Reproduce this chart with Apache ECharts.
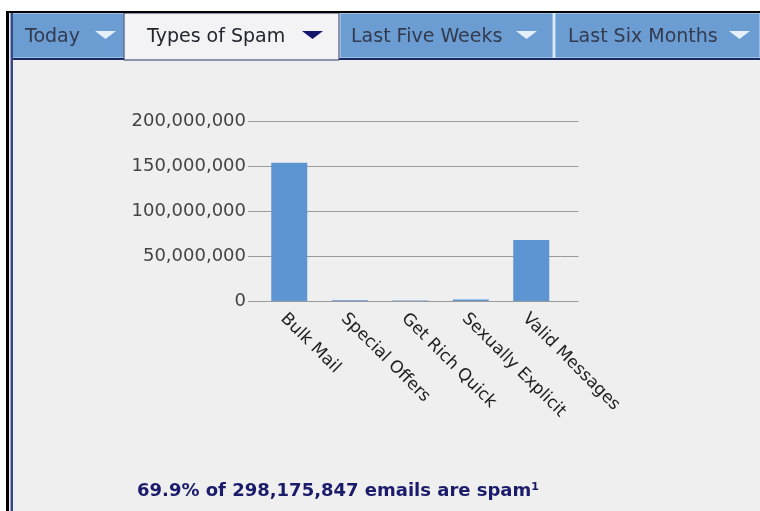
<!DOCTYPE html>
<html>
<head>
<meta charset="utf-8">
<script src="https://cdn.jsdelivr.net/npm/echarts@6/dist/echarts.min.js"></script>
<style>
  html, body { margin: 0; padding: 0; background: #ffffff; }
  #chart { width: 760px; height: 511px; }
</style>
</head>
<body>
<div id="chart"></div>
<script>
// Spam breakdown by category (message counts)
const categories = ['Bulk Mail', 'Special Offers', 'Get Rich Quick', 'Sexually Explicit', 'Valid Messages'];
const messageCounts = [153700000, 700000, 500000, 1800000, 67800000];
const yTicks = [0, 50000000, 100000000, 150000000, 200000000];
const tabNames = ['Today', 'Types of Spam', 'Last Five Weeks', 'Last Six Months'];
const activeTab = 1;
const summaryText = '69.9% of 298,175,847 emails are spam\u00b9';

const panelBg = '#efefef';
const tabBlue = '#6b9dd3';
const navy = '#1c2a63';

const chart = echarts.init(document.getElementById('chart'), null, { renderer: 'canvas' });

// Tab strip geometry
const tabBoxes = [
  { x: 10, w: 114, textX: 25, triX: 95 },
  { x: 124, w: 215, textX: 147, triX: 302 },
  { x: 340, w: 213, textX: 351, triX: 516 },
  { x: 555, w: 205, textX: 568, triX: 729 }
];

const graphics = [
  // outer frame / panel background
  { type: 'rect', shape: { x: 0, y: 0, width: 760, height: 511 }, style: { fill: '#ffffff' }, z: -10 },
  { type: 'rect', shape: { x: 8, y: 11, width: 752, height: 500 }, style: { fill: panelBg }, z: -9 },
  { type: 'rect', shape: { x: 6, y: 11, width: 754, height: 2 }, style: { fill: '#000000' }, z: 5 },
  { type: 'rect', shape: { x: 6, y: 11, width: 3, height: 500 }, style: { fill: '#000000' }, z: 5 },
  { type: 'rect', shape: { x: 10, y: 13, width: 1, height: 498 }, style: { fill: '#9aa6d0' }, z: 5 },
  { type: 'rect', shape: { x: 11, y: 13, width: 2, height: 498 }, style: { fill: '#3a4880' }, z: 5 },
  { type: 'rect', shape: { x: 13, y: 58, width: 747, height: 2 }, style: { fill: navy }, z: 3 }
];

tabBoxes.forEach((b, i) => {
  const active = i === activeTab;
  graphics.push({
    type: 'rect',
    shape: { x: b.x, y: 13, width: b.w, height: active ? 47 : 45 },
    style: { fill: active ? '#f3f3f5' : tabBlue, stroke: active ? '#2a3468' : '#cfe2f5', lineWidth: 1 },
    z: active ? 4 : 2
  });
  graphics.push({
    type: 'text',
    x: b.textX, y: 37,
    style: { text: tabNames[i], font: '19px "DejaVu Sans"', fill: active ? '#22252e' : '#333a4e', verticalAlign: 'middle' },
    z: 6
  });
  graphics.push({
    type: 'polygon',
    shape: { points: [[b.triX, 31], [b.triX + 21, 31], [b.triX + 10.5, 39]] },
    style: { fill: active ? '#14166e' : '#e6f0fb' },
    z: 6
  });
});

graphics.push({
  type: 'text',
  left: 137, top: 482,
  style: { text: summaryText, font: 'bold 18px "DejaVu Sans"', fill: '#1b1b6b' },
  z: 6
});

const yAxisCommon = {
  type: 'value',
  min: 0, max: 200000000, interval: 50000000,
  axisLine: { show: false },
  splitLine: { show: false }
};

chart.setOption({
  backgroundColor: 'transparent',
  animation: false,
  graphic: graphics,
  grid: { left: 259, right: 198.5, top: 121, bottom: 210, containLabel: false },
  xAxis: {
    type: 'category',
    data: categories,
    axisLine: { show: true, lineStyle: { color: '#9a9a9a', width: 1 } },
    axisTick: { show: false },
    axisLabel: {
      rotate: -45, interval: 0, margin: 9, verticalAlign: 'top',
      fontFamily: '"DejaVu Sans", sans-serif', fontSize: 17, color: '#1e1e1e'
    }
  },
  yAxis: [
    Object.assign({}, yAxisCommon, {
      position: 'left',
      axisTick: { show: true, length: 11, lineStyle: { color: '#9a9a9a', width: 1 } },
      splitLine: { show: true, lineStyle: { color: '#9a9a9a', width: 1 } },
      axisLabel: {
        margin: 13,
        fontFamily: '"DejaVu Sans", sans-serif', fontSize: 18, color: '#444444',
        formatter: v => v.toLocaleString('en-US')
      }
    }),
    Object.assign({}, yAxisCommon, {
      position: 'right',
      axisTick: { show: true, length: 17, lineStyle: { color: '#9a9a9a', width: 1 } },
      axisLabel: { show: false }
    })
  ],
  series: [{
    type: 'bar',
    data: messageCounts,
    barWidth: 36,
    itemStyle: { color: '#5d95d2' },
    yAxisIndex: 0
  }]
});
</script>
</body>
</html>
